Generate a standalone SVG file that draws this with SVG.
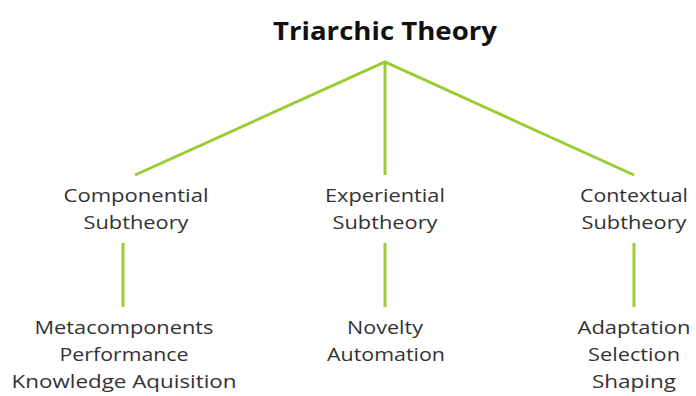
<svg xmlns="http://www.w3.org/2000/svg" width="696" height="396" viewBox="0 0 696 396">
<style>
.t{font-family:"Open Sans","Noto Sans",sans-serif;font-size:18px;fill:#333;text-anchor:middle}
.h{font-family:"Open Sans","Noto Sans",sans-serif;font-size:25px;font-weight:bold;fill:#111;text-anchor:middle}
.c{stroke:#9ccc34;stroke-width:3;fill:none;stroke-linecap:butt}
</style>
<rect width="696" height="396" fill="#fff"/>
<g id="connectors">
<path class="c" d="M135 175 L385 62 L634 175"/>
<path class="c" d="M385 62 L385 175"/>
<path class="c" d="M123 243 L123 307"/>
<path class="c" d="M385 243 L385 307"/>
<path class="c" d="M634 243 L634 307"/>
</g>
<g id="root"><text class="h" x="385" y="40" textLength="224" lengthAdjust="spacingAndGlyphs">Triarchic Theory</text></g>
<g id="componential">
<text class="t" x="136" y="202" textLength="145" lengthAdjust="spacingAndGlyphs">Componential</text>
<text class="t" x="136" y="229" textLength="105" lengthAdjust="spacingAndGlyphs">Subtheory</text>
</g>
<g id="experiential">
<text class="t" x="385" y="202" textLength="120" lengthAdjust="spacingAndGlyphs">Experiential</text>
<text class="t" x="385" y="229" textLength="105" lengthAdjust="spacingAndGlyphs">Subtheory</text>
</g>
<g id="contextual">
<text class="t" x="634" y="202" textLength="108" lengthAdjust="spacingAndGlyphs">Contextual</text>
<text class="t" x="634" y="229" textLength="105" lengthAdjust="spacingAndGlyphs">Subtheory</text>
</g>
<g id="componential-items">
<text class="t" x="124" y="334" textLength="179" lengthAdjust="spacingAndGlyphs">Metacomponents</text>
<text class="t" x="124" y="361" textLength="129" lengthAdjust="spacingAndGlyphs">Performance</text>
<text class="t" x="124" y="388" textLength="225" lengthAdjust="spacingAndGlyphs">Knowledge Aquisition</text>
</g>
<g id="experiential-items">
<text class="t" x="385" y="334" textLength="76" lengthAdjust="spacingAndGlyphs">Novelty</text>
<text class="t" x="386" y="361" textLength="118" lengthAdjust="spacingAndGlyphs">Automation</text>
</g>
<g id="contextual-items">
<text class="t" x="634" y="334" textLength="113" lengthAdjust="spacingAndGlyphs">Adaptation</text>
<text class="t" x="634" y="361" textLength="92" lengthAdjust="spacingAndGlyphs">Selection</text>
<text class="t" x="634" y="388" textLength="84" lengthAdjust="spacingAndGlyphs">Shaping</text>
</g>
</svg>
